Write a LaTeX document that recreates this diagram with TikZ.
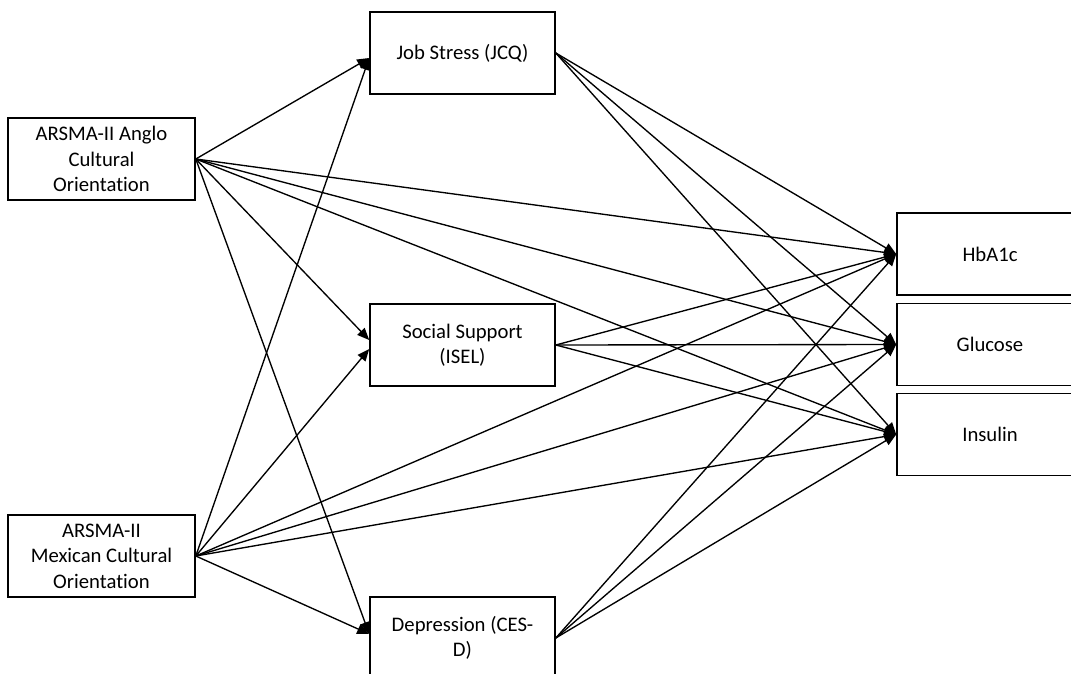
\documentclass[tikz,border=0pt]{standalone}
\usepackage{fontspec}
\setmainfont{Carlito}[Ligatures=NoCommon]
\usetikzlibrary{arrows.meta}
\begin{document}
\begin{tikzpicture}[x=1pt,y=-1pt,
  box/.style={draw, line width=1.6pt, minimum width=186pt, minimum height=82pt, align=center, inner sep=0pt, font=\fontsize{20.7}{25.5}\selectfont},
  arr/.style={line width=1.35pt, -{Triangle[length=12pt,width=10pt]}}]
\clip (0,0) rectangle (1071,674);
% left column
\node[box, minimum width=187pt] (anglo) at (101.5,159) {ARSMA-II Anglo\\Cultural\\Orientation};
\node[box, minimum width=187pt] (mex) at (101.5,556) {ARSMA-II\\Mexican Cultural\\Orientation};
% middle column
\node[box, minimum width=185pt] (job) at (462.5,53) {Job Stress (JCQ)};
\node[box, minimum width=185pt] (soc) at (462.5,345) {Social Support\\(ISEL)};
\node[box, minimum width=185pt] (dep) at (462.5,638) {Depression (CES-\\D)};
% right column
\node[box] (hba) at (990,254) {HbA1c};
\node[box] (glu) at (990,344.5) {Glucose};
\node[box] (ins) at (990,434.5) {Insulin};
% left to middle
\draw[arr] (anglo.east) -- ([yshift=-5pt]job.west);
\draw[arr] (anglo.east) -- ([yshift=5pt]soc.west);
\draw[arr] (anglo.east) -- ([yshift=4pt]dep.west);
\draw[arr] (mex.east) -- ([yshift=-5pt]job.west);
\draw[arr] (mex.east) -- ([yshift=-4pt]soc.west);
\draw[arr] (mex.east) -- ([yshift=4pt]dep.west);
% left to right
\foreach \s in {anglo,mex}{
  \foreach \t in {hba,glu,ins}{
    \draw[arr] (\s.east) -- (\t.west);
  }
}
% middle to right
\foreach \s in {job,soc,dep}{
  \foreach \t in {hba,glu,ins}{
    \draw[arr] (\s.east) -- (\t.west);
  }
}
\end{tikzpicture}
\end{document}
